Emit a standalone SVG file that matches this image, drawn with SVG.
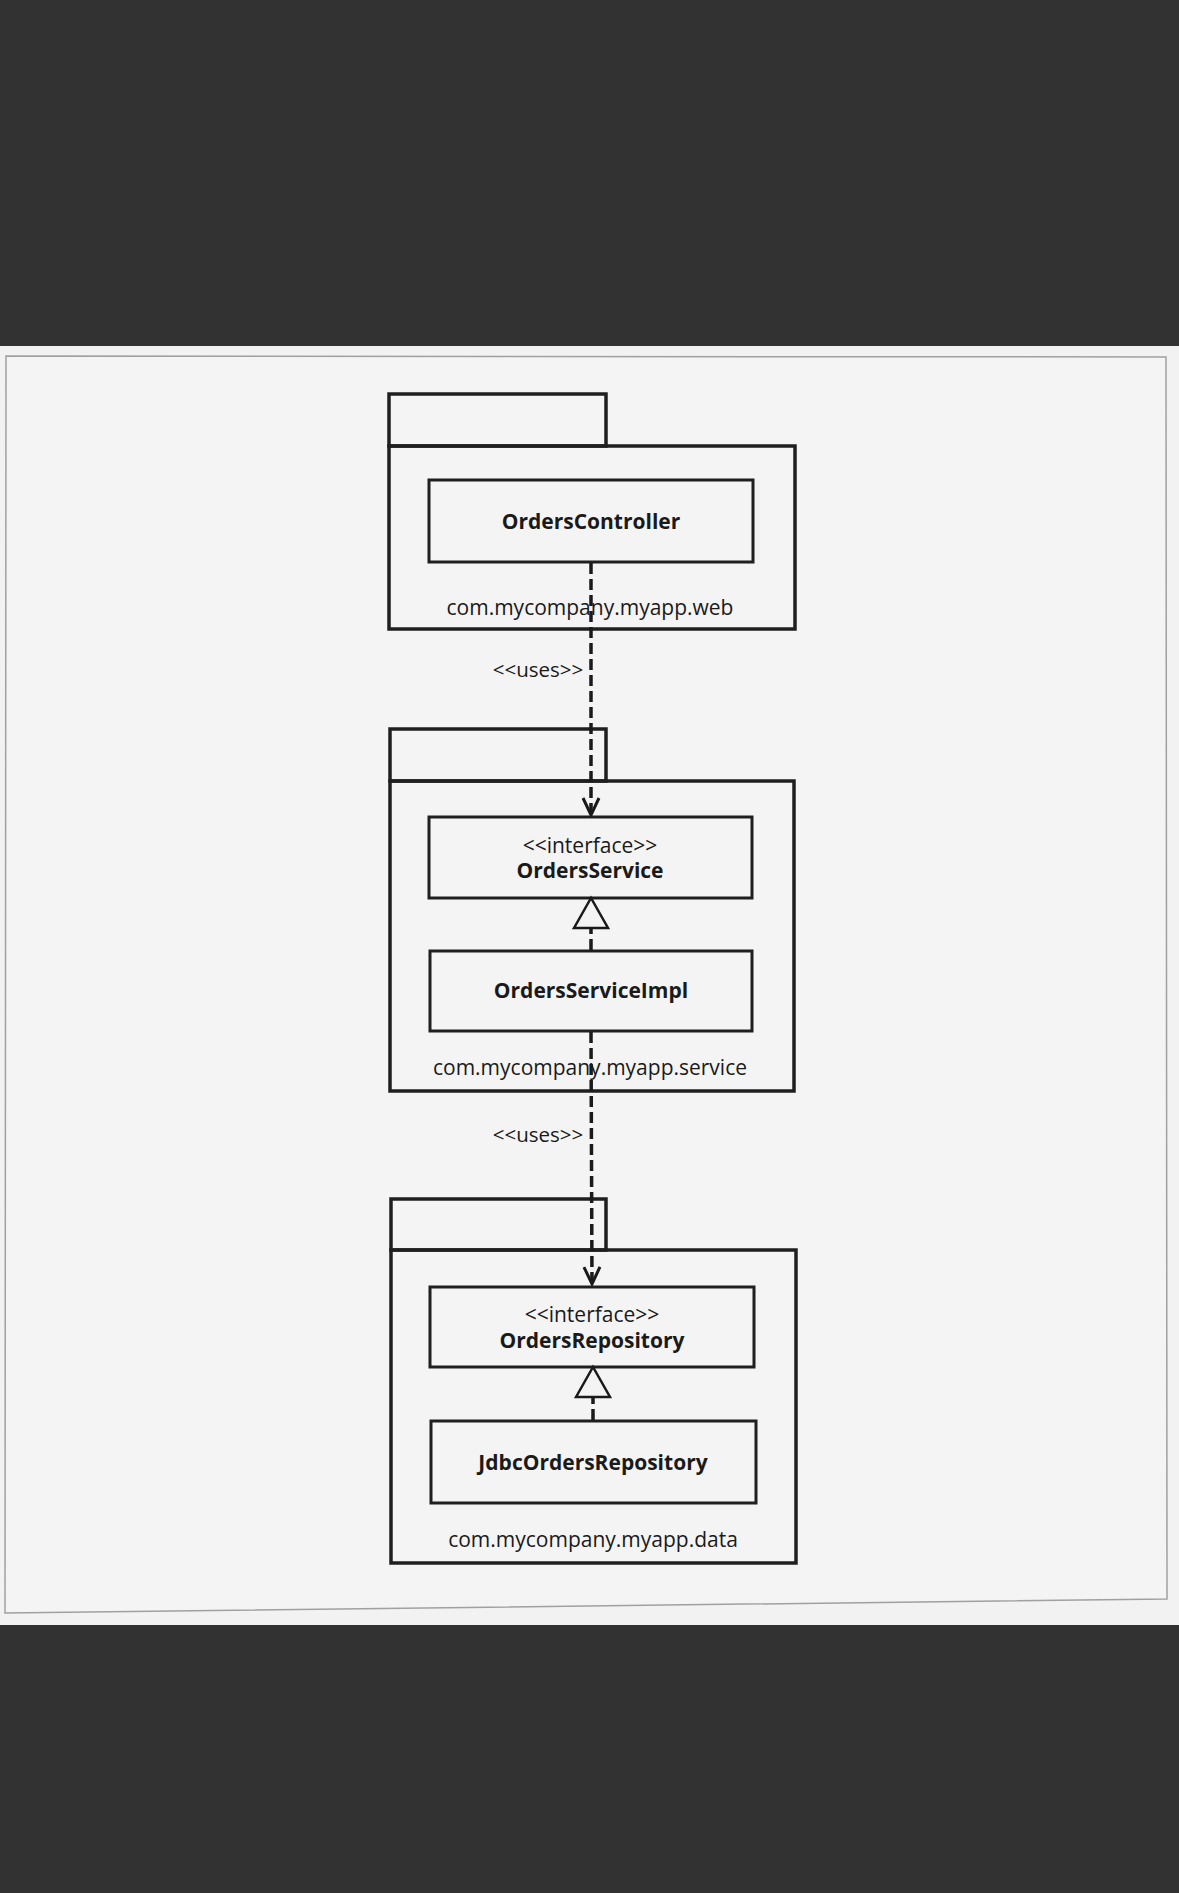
<svg xmlns="http://www.w3.org/2000/svg" width="1179" height="1893" viewBox="0 0 1179 1893">
  <style>
    .pkg { fill: none; stroke: #1f1f1f; stroke-width: 3.5; }
    .cls { fill: none; stroke: #1f1f1f; stroke-width: 3; }
    .name { font-family: "Open Sans", "Noto Sans", sans-serif; font-weight: bold; font-size: 21px; fill: #1a1a1a; text-anchor: middle; }
    .stereo { font-family: "Open Sans", "Noto Sans", sans-serif; font-size: 21px; fill: #1a1a1a; text-anchor: middle; }
    .uses { font-family: "Open Sans", "Noto Sans", sans-serif; font-size: 20.5px; fill: #1a1a1a; text-anchor: middle; }
    .pkg-label { font-family: "Open Sans", "Noto Sans", sans-serif; font-size: 21px; fill: #1a1a1a; text-anchor: middle; }
    .dep { fill: none; stroke: #1a1a1a; stroke-width: 3.5; stroke-dasharray: 11 5; }
  </style>
  <defs>
    <!-- open arrowhead for <<uses>> dependencies -->
    <marker id="open-arrow" markerUnits="userSpaceOnUse" viewBox="-20 -10 22 20" markerWidth="22" markerHeight="20" refX="0" refY="0" orient="auto">
      <path d="M-17,-8 L0,0 L-17,8" fill="none" stroke="#1a1a1a" stroke-width="3"/>
    </marker>
    <!-- hollow triangle for interface realization -->
    <marker id="hollow-tri" markerUnits="userSpaceOnUse" viewBox="-3 -20 36 40" markerWidth="36" markerHeight="40" refX="0" refY="0" orient="auto">
      <path d="M0,-17 L30,0 L0,17 Z" fill="#f4f4f4" stroke="#1a1a1a" stroke-width="2.5"/>
    </marker>
  </defs>

  <!-- backdrop and page -->
  <rect x="0" y="0" width="1179" height="1893" fill="#323232"/>
  <rect x="0" y="346" width="1179" height="1279" fill="#f2f2f2"/>
  <polygon points="6,356 1166,357 1167,1599 5,1613" fill="#f4f4f4" stroke="#a0a0a0" stroke-width="1.5"/>

  <!-- package: web -->
  <g id="pkg-web">
    <rect class="pkg" x="389" y="394" width="217" height="52"/>
    <rect class="pkg" x="389" y="446" width="406" height="183"/>
    <text class="pkg-label" x="590" y="615">com.mycompany.myapp.web</text>
  </g>
  <g id="OrdersController">
    <rect class="cls" x="429" y="480" width="324" height="82"/>
    <text class="name" x="591" y="529">OrdersController</text>
  </g>

  <!-- package: service -->
  <g id="pkg-service">
    <rect class="pkg" x="390" y="729" width="216" height="52"/>
    <rect class="pkg" x="390" y="781" width="404" height="310"/>
    <text class="pkg-label" x="590" y="1075">com.mycompany.myapp.service</text>
  </g>
  <g id="OrdersService">
    <rect class="cls" x="429" y="817" width="323" height="81"/>
    <text class="stereo" x="590" y="853">&lt;&lt;interface&gt;&gt;</text>
    <text class="name" x="590" y="878">OrdersService</text>
  </g>
  <g id="OrdersServiceImpl">
    <rect class="cls" x="430" y="951" width="322" height="80"/>
    <text class="name" x="591" y="998">OrdersServiceImpl</text>
  </g>

  <!-- package: data -->
  <g id="pkg-data">
    <rect class="pkg" x="391" y="1199" width="215" height="51"/>
    <rect class="pkg" x="391" y="1250" width="405" height="313"/>
    <text class="pkg-label" x="593" y="1547">com.mycompany.myapp.data</text>
  </g>
  <g id="OrdersRepository">
    <rect class="cls" x="430" y="1287" width="324" height="80"/>
    <text class="stereo" x="592" y="1322">&lt;&lt;interface&gt;&gt;</text>
    <text class="name" x="592" y="1348">OrdersRepository</text>
  </g>
  <g id="JdbcOrdersRepository">
    <rect class="cls" x="431" y="1421" width="325" height="82"/>
    <text class="name" x="593" y="1470">JdbcOrdersRepository</text>
  </g>

  <!-- connectors -->
  <g id="connectors">
    <path class="dep" d="M591,563 L591,815" marker-end="url(#open-arrow)"/>
    <text class="uses" x="538" y="677">&lt;&lt;uses&gt;&gt;</text>
    <path class="dep" d="M591,1032 L592,1284" marker-end="url(#open-arrow)"/>
    <text class="uses" x="538" y="1142">&lt;&lt;uses&gt;&gt;</text>
    <path class="dep" d="M591,950 L591,928" marker-end="url(#hollow-tri)"/>
    <path class="dep" d="M593,1420 L593,1397" marker-end="url(#hollow-tri)"/>
  </g>
</svg>
